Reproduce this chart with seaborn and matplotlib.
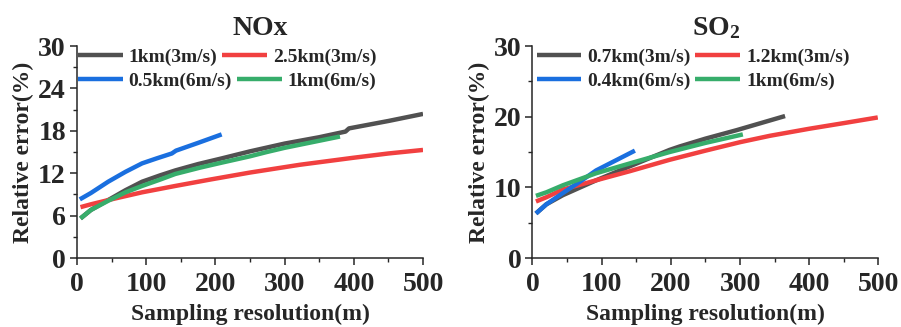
import numpy as np
import pandas as pd
import matplotlib
matplotlib.use("Agg")
import matplotlib.pyplot as plt
from matplotlib.lines import Line2D
from matplotlib.ticker import MultipleLocator
import seaborn as sns

# ---- NOx panel data ----
nox_labels = ["1km(3m/s)", "2.5km(3m/s)", "0.5km(6m/s)", "1km(6m/s)"]
nox_gray_x = [5, 20, 45, 70, 94, 120, 142, 175, 209, 250, 300, 350, 388, 393, 450, 500]
nox_gray_y = [5.6, 6.8, 8.2, 9.6, 10.8, 11.7, 12.4, 13.3, 14.1, 15.1, 16.2, 17.1, 17.9, 18.35, 19.4, 20.4]
nox_red_x = [5, 20, 45, 94, 142, 192, 250, 322, 400, 450, 500]
nox_red_y = [7.2, 7.6, 8.2, 9.3, 10.2, 11.1, 12.1, 13.2, 14.2, 14.8, 15.3]
nox_blue_x = [4, 20, 45, 70, 94, 115, 137, 143, 175, 209]
nox_blue_y = [8.3, 9.2, 10.8, 12.2, 13.4, 14.1, 14.8, 15.2, 16.3, 17.5]
nox_green_x = [5, 20, 45, 70, 94, 120, 142, 178, 209, 250, 274, 300, 340, 380]
nox_green_y = [5.6, 6.8, 8.1, 9.3, 10.2, 11.1, 11.9, 12.8, 13.5, 14.4, 15.0, 15.6, 16.4, 17.2]

# ---- SO2 panel data ----
so2_labels = ["0.7km(3m/s)", "1.2km(3m/s)", "0.4km(6m/s)", "1km(6m/s)"]
so2_gray_x = [5, 20, 44, 92, 141, 198, 213, 250, 295, 330, 365]
so2_gray_y = [6.3, 7.6, 8.9, 11.0, 13.0, 15.3, 15.8, 16.9, 18.1, 19.1, 20.1]
so2_red_x = [5, 20, 44, 92, 141, 198, 250, 300, 343, 400, 450, 499]
so2_red_y = [8.0, 8.6, 9.7, 11.0, 12.3, 13.9, 15.2, 16.4, 17.3, 18.3, 19.1, 19.9]
so2_blue_x = [5, 20, 44, 70, 92, 120, 148]
so2_blue_y = [6.3, 7.6, 9.2, 10.9, 12.4, 13.8, 15.2]
so2_green_x = [5, 20, 44, 92, 141, 198, 250, 304]
so2_green_y = [8.8, 9.3, 10.3, 12.0, 13.4, 15.0, 16.3, 17.5]

colors = ["#515151", "#F14040", "#1A6FDF", "#37AD6B"]

sns.set_style("ticks")
plt.rcParams["font.family"] = ["Liberation Serif", "DejaVu Serif"]
plt.rcParams["font.weight"] = "bold"
plt.rcParams["mathtext.fontset"] = "custom"
plt.rcParams["mathtext.rm"] = "Liberation Serif:bold"
plt.rcParams["mathtext.it"] = "Liberation Serif:bold"
plt.rcParams["mathtext.bf"] = "Liberation Serif:bold"


def make_frame(labels, xs, ys):
    rows = []
    for lab, x, y in zip(labels, xs, ys):
        for xi, yi in zip(x, y):
            rows.append((lab, xi, yi))
    return pd.DataFrame(rows, columns=["series", "x", "y"])


def draw_panel(ax, df, labels, title, ystep, yminor, legend_x):
    sns.lineplot(data=df, x="x", y="y", hue="series", hue_order=labels,
                 palette=colors, linewidth=3.2, ax=ax, legend=False,
                 sort=False, estimator=None)
    for ln in ax.lines:
        ln.set_solid_capstyle("butt")
        ln.set_solid_joinstyle("round")
    ax.set_xlim(0, 500)
    ax.set_ylim(0, 30)
    ax.xaxis.set_major_locator(MultipleLocator(100))
    ax.xaxis.set_minor_locator(MultipleLocator(50))
    ax.yaxis.set_major_locator(MultipleLocator(ystep))
    ax.yaxis.set_minor_locator(MultipleLocator(yminor))
    ax.tick_params(which="major", length=5, width=1.1, labelsize=20)
    ax.tick_params(axis="x", which="major", pad=5)
    ax.tick_params(axis="y", which="major", pad=3)
    ax.tick_params(which="minor", length=3, width=1.0)
    for lab in ax.get_xticklabels() + ax.get_yticklabels():
        lab.set_fontweight("bold")
    for s in ["left", "bottom"]:
        ax.spines[s].set_linewidth(1.1)
    sns.despine(ax=ax)
    ax.set_xlabel("Sampling resolution(m)", fontsize=17, fontweight="bold", labelpad=5)
    ax.set_ylabel("Relative error(%)", fontsize=17, fontweight="bold", labelpad=3)
    ax.set_title(title, fontsize=20, fontweight="bold", pad=8, x=0.53)

    handles = [Line2D([], [], color=c, linewidth=3.2, solid_capstyle="butt") for c in colors]
    kw = dict(ncol=2, frameon=False, handlelength=2.3,
              handletextpad=0.3, columnspacing=0.25, borderpad=0,
              borderaxespad=0, loc="center left", prop={"weight": "bold", "size": 14})
    leg1 = ax.legend(handles[:2], labels[:2], bbox_to_anchor=(legend_x, 0.948), **kw)
    ax.add_artist(leg1)
    ax.legend(handles[2:], labels[2:], bbox_to_anchor=(legend_x, 0.835), **kw)


fig = plt.figure(figsize=(9.01, 3.27), dpi=100)
ax1 = fig.add_axes([0.0855, 0.211, 0.384, 0.648])
ax2 = fig.add_axes([0.591, 0.211, 0.384, 0.648])

df_nox = make_frame(nox_labels,
                    [nox_gray_x, nox_red_x, nox_blue_x, nox_green_x],
                    [nox_gray_y, nox_red_y, nox_blue_y, nox_green_y])
df_so2 = make_frame(so2_labels,
                    [so2_gray_x, so2_red_x, so2_blue_x, so2_green_x],
                    [so2_gray_y, so2_red_y, so2_blue_y, so2_green_y])

draw_panel(ax1, df_nox, nox_labels, "NOx", 6, 3, 0.003)
draw_panel(ax2, df_so2, so2_labels, "SO$_2$", 10, 5, 0.012)

fig.savefig("out.png", dpi=100)
